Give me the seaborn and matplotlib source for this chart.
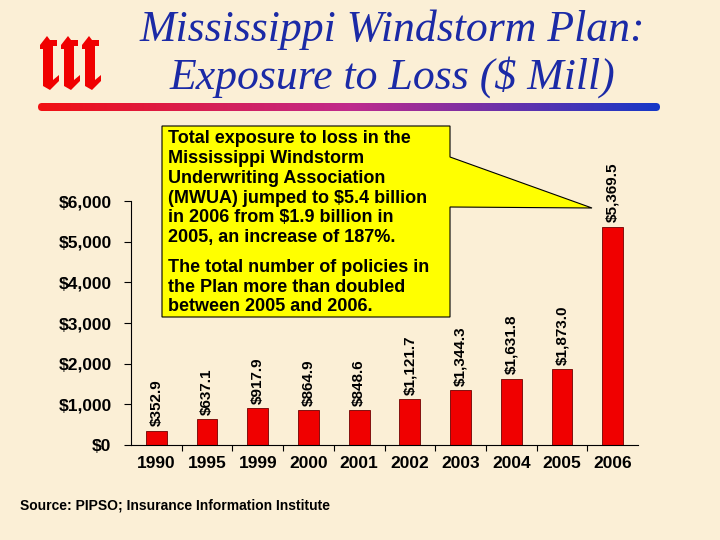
import numpy as np
import pandas as pd
import seaborn as sns
import matplotlib.pyplot as plt
from matplotlib.patches import Polygon, FancyBboxPatch
from matplotlib.ticker import FixedLocator, FuncFormatter

# Chart data
years = ['1990', '1995', '1999', '2000', '2001', '2002', '2003', '2004', '2005', '2006']
exposure = [352.9, 637.1, 917.9, 864.9, 848.6, 1121.7, 1344.3, 1631.8, 1873.0, 5369.5]
y_ticks = [0, 1000, 2000, 3000, 4000, 5000, 6000]

title_lines = ['Mississippi Windstorm Plan:', 'Exposure to Loss ($ Mill)']
note_1 = ('Total exposure to loss in the\nMississippi Windstorm\nUnderwriting Association\n'
          '(MWUA) jumped to $5.4 billion\nin 2006 from $1.9 billion in\n2005, an increase of 187%.')
note_2 = 'The total number of policies in\nthe Plan more than doubled\nbetween 2005 and 2006.'
source = 'Source: PIPSO; Insurance Information Institute'

df = pd.DataFrame({'year': years, 'exposure': exposure})

sns.set_theme(style='white')
plt.rcParams['font.family'] = ['Liberation Sans', 'DejaVu Sans']
plt.rcParams['text.color'] = 'black'
plt.rcParams['xtick.color'] = 'black'
plt.rcParams['ytick.color'] = 'black'
bg = '#FBEFD6'

W, H = 720, 540
fig = plt.figure(figsize=(7.2, 5.4), dpi=100, facecolor=bg)


def fx(x):
    return x / W


def fy(y):
    return 1 - y / H


ax = fig.add_axes([fx(131), fy(445), fx(638) - fx(131), fy(201) - fy(445)])
ax.set_facecolor('none')

sns.barplot(data=df, x='year', y='exposure', color='#F00000', width=0.41,
            edgecolor='#700000', linewidth=0.6, saturation=1, ax=ax)

ax.set_xlim(-0.5, len(years) - 0.5)
ax.set_ylim(0, 6000)
ax.set_yticks(y_ticks)
ax.yaxis.set_major_formatter(FuncFormatter(lambda v, p: f'${v:,.0f}'))
ax.set_xlabel('')
ax.set_ylabel('')

for lab in ax.get_xticklabels() + ax.get_yticklabels():
    lab.set_fontweight('bold')
    lab.set_color('black')
    lab.set_fontsize(12.5)

ax.tick_params(axis='y', direction='out', length=5, width=0.8, color='black', pad=9, left=True)
ax.tick_params(axis='x', which='major', length=0, pad=8)
ax.xaxis.set_minor_locator(FixedLocator(np.arange(0.5, len(years) - 1, 1.0)))
ax.tick_params(axis='x', which='minor', direction='out', length=4, width=0.8, color='black', bottom=True)

for side in ['top', 'right']:
    ax.spines[side].set_visible(False)
for side in ['left', 'bottom']:
    ax.spines[side].set_color('black')
    ax.spines[side].set_linewidth(0.8)

# value labels above bars
for i, v in enumerate(exposure):
    ax.annotate(f'${v:,.1f}', (i, v), xytext=(0, 3), textcoords='offset points',
                rotation=90, ha='center', va='bottom', fontsize=11, fontweight='bold',
                color='black')

# title
fig.text(fx(392), fy(30), title_lines[0], ha='center', va='center', fontsize=31.5,
         family='Liberation Serif', style='italic', color='#1B2AA6')
fig.text(fx(392), fy(77), title_lines[1], ha='center', va='center', fontsize=31.5,
         family='Liberation Serif', style='italic', color='#1B2AA6')

# decoration layer (pixel coordinates)
deco = fig.add_axes([0, 0, 1, 1], zorder=-1)
deco.axis('off')

# logo: three blackletter-style "i" shapes
logo_shape = [(0, 45), (7, 36), (10, 40), (17, 40), (17, 46), (13, 46), (13, 80),
              (19, 75), (19, 81), (10, 90), (3, 86), (3, 49), (0, 49)]
for ox in [40, 61, 82]:
    deco.add_patch(Polygon([(ox + px, py) for px, py in logo_shape], closed=True,
                           facecolor='#F00000', edgecolor='none'))

# gradient rule under the title
grad = np.linspace(0, 1, 256).reshape(1, -1)
cmap = plt.matplotlib.colors.LinearSegmentedColormap.from_list('rb', ['#F21010', '#C02A8C', '#1438C8'])
im = deco.imshow(grad, extent=[34, 662, 111, 103], aspect='auto', cmap=cmap)
clip = FancyBboxPatch((38, 103), 622, 8, boxstyle='round,pad=0,rounding_size=4',
                      transform=deco.transData, facecolor='none', edgecolor='none')
deco.add_patch(clip)
im.set_clip_path(clip)
deco.set_xlim(0, W)
deco.set_ylim(H, 0)

# callout box
pts = [(162, 126), (450, 126), (450, 157), (592, 208), (450, 207), (450, 317), (162, 317)]
callout = Polygon([(fx(x), fy(y)) for x, y in pts], closed=True, transform=fig.transFigure,
                  facecolor='#FFFF00', edgecolor='black', linewidth=0.8, zorder=2)
fig.patches.append(callout)
fig.text(fx(168), fy(130), note_1, ha='left', va='top', fontsize=13, fontweight='bold',
         linespacing=1.22, zorder=3)
fig.text(fx(168), fy(259), note_2, ha='left', va='top', fontsize=13, fontweight='bold',
         linespacing=1.2, zorder=3)

fig.text(fx(20), fy(506), source, ha='left', va='center', fontsize=10, fontweight='bold')

fig.savefig('out.png', dpi=100, facecolor=bg)
